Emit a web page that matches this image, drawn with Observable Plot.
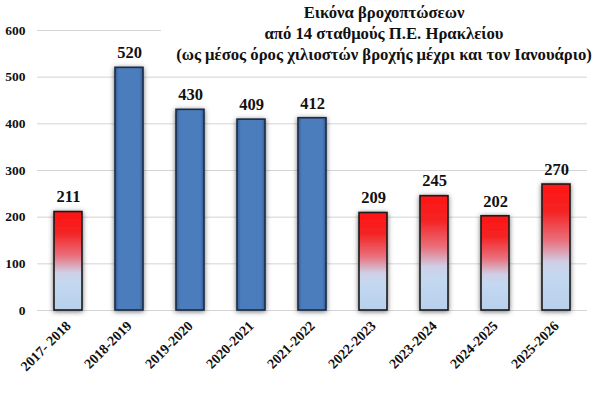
<!DOCTYPE html>
<html><head><meta charset="utf-8">
<script src="https://cdn.jsdelivr.net/npm/d3@7"></script>
<script src="https://cdn.jsdelivr.net/npm/@observablehq/plot@0.6"></script>
<style>
body{margin:0;background:#fff;overflow:hidden}
#wrap{position:relative;width:600px;height:403px}
#title{position:absolute;left:161px;top:2px;width:446px;text-align:center;white-space:nowrap;font-family:"Liberation Serif","Times New Roman",serif;font-weight:bold;font-size:16.7px;line-height:21px;background:#fff;color:#111}
svg text{font-family:"Liberation Serif","Times New Roman",serif !important;font-weight:bold}
</style></head><body>
<div id="wrap"><div id="title"></div></div>
<script>
const seasons = ["2017- 2018","2018-2019","2019-2020","2020-2021","2021-2022","2022-2023","2023-2024","2024-2025","2025-2026"];
const rainfall = [211,520,430,409,412,209,245,202,270];
const barStyle = ["red","blue","blue","blue","blue","red","red","red","red"];
const titleLines = ["Εικόνα βροχοπτώσεων","από 14 σταθμούς Π.Ε. Ηρακλείου","(ως μέσος όρος χιλιοστών βροχής μέχρι και τον Ιανουάριο)"];
const yTicks = [0,100,200,300,400,500,600];

const data = seasons.map((s,i)=>({season:s, mm:rainfall[i], style:barStyle[i]}));
const font = "Liberation Serif, serif";

document.getElementById("title").innerHTML = titleLines.join("<br>");

const chart = Plot.plot({
  width:600, height:403,
  marginTop:30, marginBottom:93, marginLeft:37, marginRight:13,
  style:{fontFamily:font, fontWeight:"bold", fontSize:"13px", color:"#111", background:"white"},
  x:{domain:seasons, paddingInner:0.54, paddingOuter:0.27, label:null},
  y:{domain:[0,600], ticks:yTicks, label:null},
  marks:[
    Plot.gridY(yTicks, {stroke:"#d4d4d4", strokeOpacity:1, strokeWidth:1}),
    Plot.axisY(yTicks, {tickSize:0, tickPadding:12, fontSize:13.5, fontWeight:"bold", label:null}),
    Plot.axisX({tickRotate:-45, tickSize:0, tickPadding:13, fontSize:14, fontWeight:"bold", label:null}),
    Plot.barY(data.filter(d=>d.style==="blue"), {x:"season", y:"mm", fill:"url(#blueGrad)", stroke:"#1b2a44", strokeWidth:1.6}),
    Plot.barY(data.filter(d=>d.style==="red"), {x:"season", y:"mm", fill:"url(#redGrad)", stroke:"#1a1a1a", strokeWidth:1.6}),
    Plot.text(data, {x:"season", y:"mm", text:d=>String(d.mm), dy:-15, fontSize:16.5, fontWeight:"bold", fontFamily:font, fill:"#111"})
  ]
});

const svg = d3.select(chart);
const defs = svg.insert("defs", ":first-child");
const rg = defs.append("linearGradient").attr("id","redGrad").attr("x1",0).attr("y1",0).attr("x2",0).attr("y2",1);
[["0%","#ff1414"],["22%","#f42424"],["45%","#e9707c"],["62%","#cfcfe6"],["72%","#c4d8f0"],["100%","#b8d0ec"]]
  .forEach(([o,c])=>rg.append("stop").attr("offset",o).attr("stop-color",c));
const bg = defs.append("linearGradient").attr("id","blueGrad").attr("x1",0).attr("y1",0).attr("x2",1).attr("y2",0);
[["0%","#35609a"],["14%","#4b7dbd"],["86%","#4b7dbd"],["100%","#35609a"]]
  .forEach(([o,c])=>bg.append("stop").attr("offset",o).attr("stop-color",c));
const f = defs.append("filter").attr("id","shadow").attr("x","-40%").attr("y","-10%").attr("width","180%").attr("height","120%");
f.append("feDropShadow").attr("dx",0).attr("dy",1).attr("stdDeviation",2.4).attr("flood-color","#444").attr("flood-opacity",0.75);
svg.selectAll('g[aria-label="bar"]').attr("filter","url(#shadow)");

document.getElementById("wrap").insertBefore(chart, document.getElementById("title"));
</script>
</body></html>
